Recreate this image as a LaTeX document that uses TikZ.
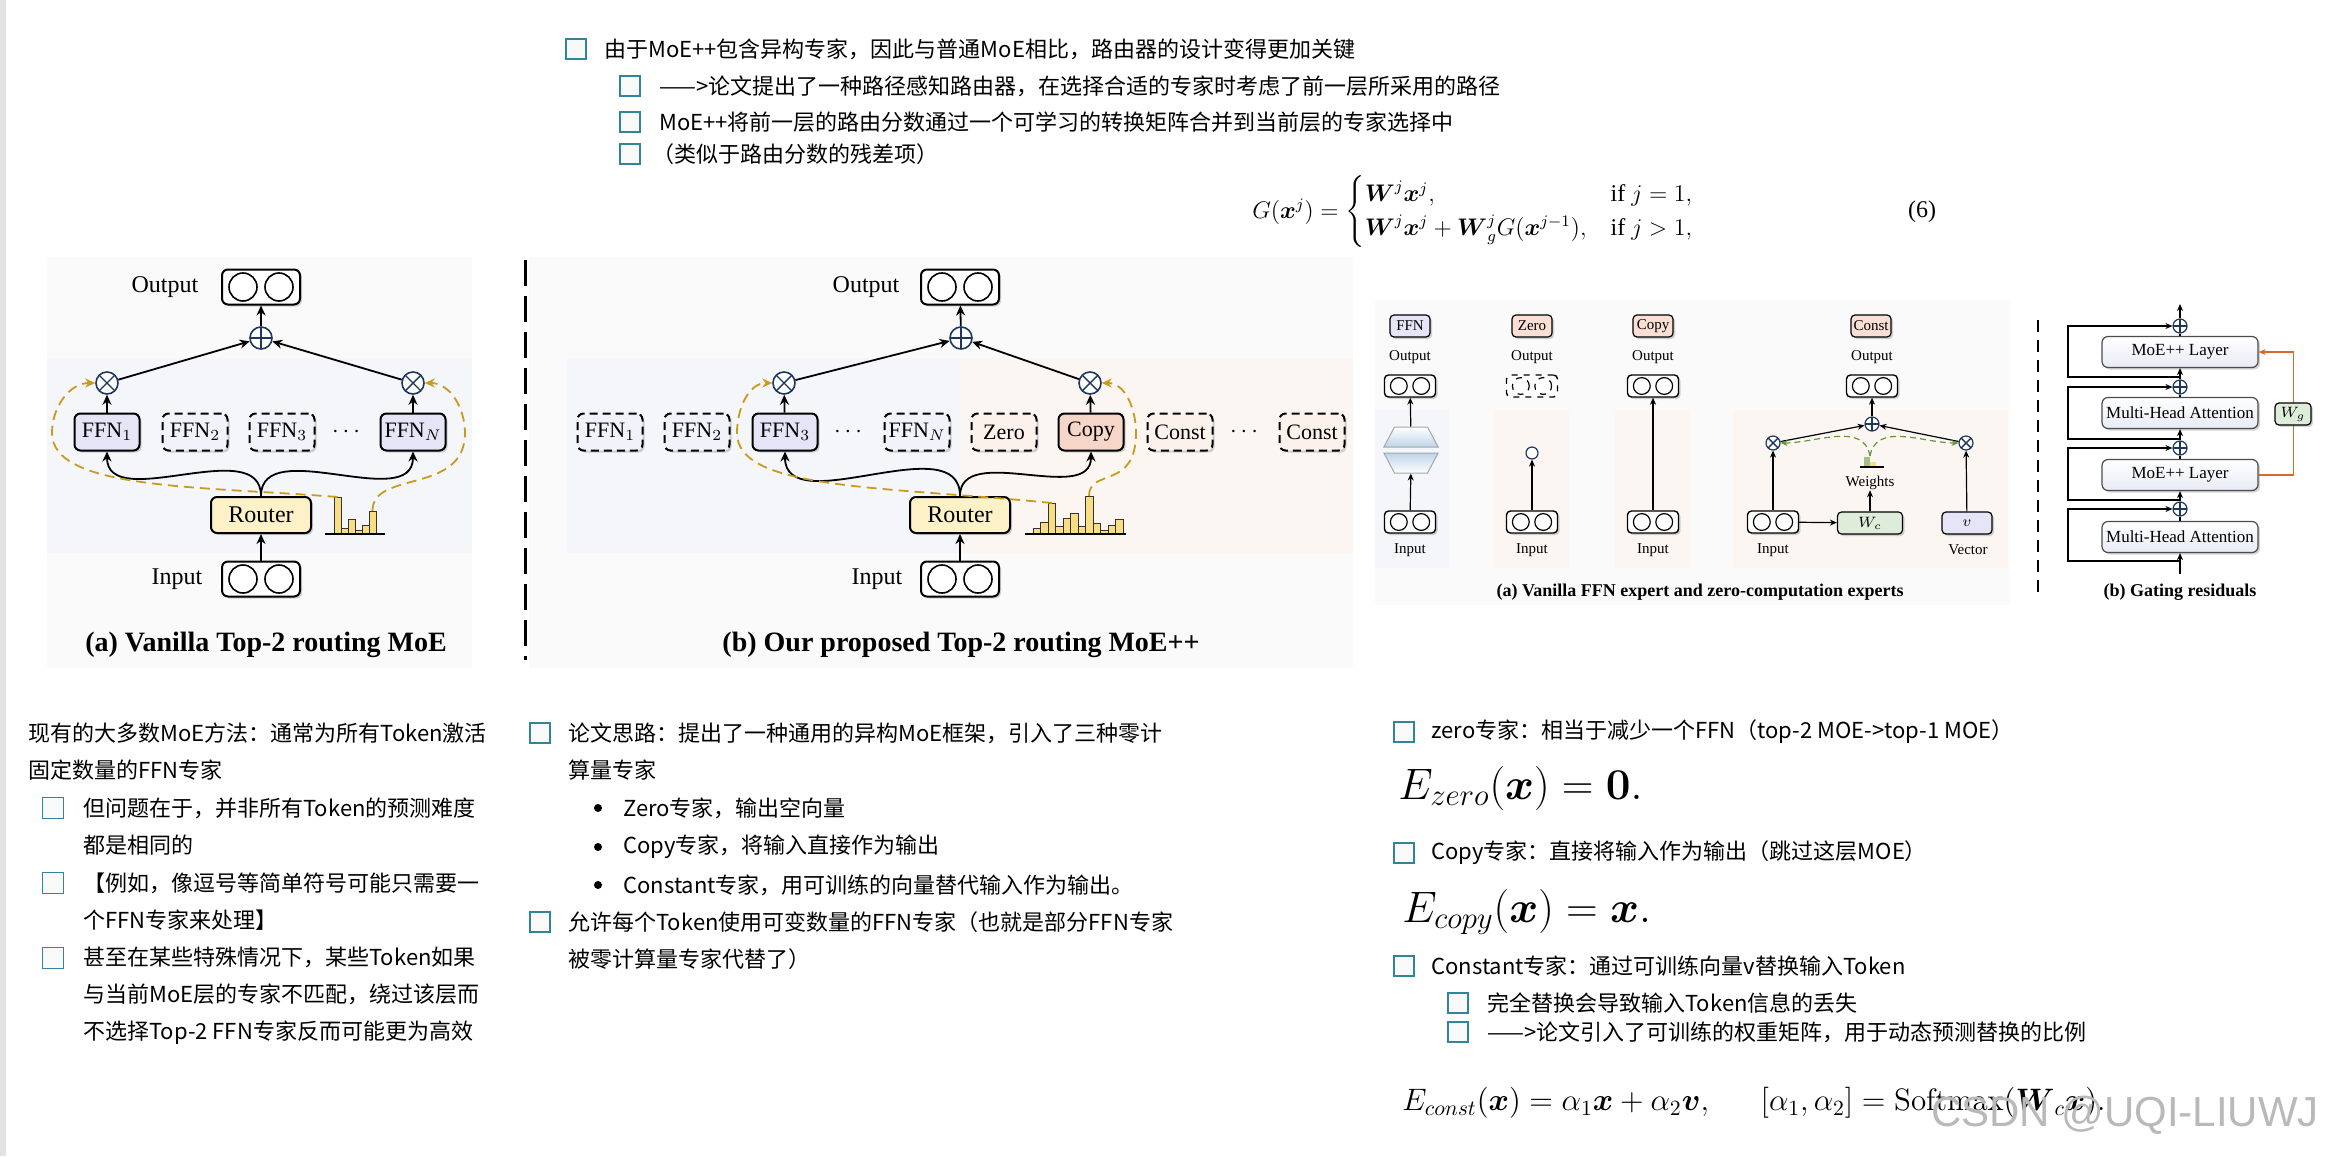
\RequirePackage{fix-cm}
\documentclass[tikz,border=0pt]{standalone}
\usepackage{amsmath}
\usepackage[no-math]{fontspec}
\setmainfont{Liberation Serif}
\newfontfamily\cjk{Noto Sans CJK SC}
\newfontfamily\wmfont{Liberation Sans}
\usetikzlibrary{arrows.meta,shadows,shapes.geometric}

\definecolor{ffnfill}{RGB}{229,229,247}
\definecolor{routerfill}{RGB}{253,241,200}
\definecolor{copyfill}{RGB}{246,214,200}
\definecolor{zerofill}{RGB}{250,224,212}
\definecolor{histfill}{RGB}{248,222,130}
\definecolor{cGold}{RGB}{200,155,30}
\definecolor{cOp}{RGB}{30,55,95}
\definecolor{panelout}{RGB}{250,250,251}
\definecolor{panelblue}{RGB}{244,246,250}
\definecolor{panelpink}{RGB}{252,246,243}
\definecolor{wcfill}{RGB}{222,236,218}
\definecolor{cGreen}{RGB}{100,150,60}
\definecolor{cOrange}{RGB}{215,105,45}
\definecolor{cbblue}{RGB}{49,133,155}
\definecolor{layerfill}{RGB}{232,235,245}
\definecolor{trapfill}{RGB}{190,212,232}

\begin{document}
\begin{tikzpicture}[
  x=0.5pt, y=-0.5pt,
  shd/.style={drop shadow={shadow xshift=1pt, shadow yshift=-1pt, opacity=0.35}},
  tok/.style={draw, line width=1pt, rounded corners=3pt, fill=white, minimum width=39pt, minimum height=17.5pt, inner sep=0, shd},
  tokbase/.style={draw, line width=0.7pt, rounded corners=2pt, fill=white, minimum width=25.5pt, minimum height=11pt, inner sep=0},
  tokS/.style={tokbase, shd},
  lbl/.style={font=\fontsize{12}{14}\selectfont, inner sep=0},
  lblS/.style={font=\fontsize{7.5}{9}\selectfont, inner sep=0},
  expert/.style={draw, line width=1pt, rounded corners=3pt, fill=ffnfill, minimum width=32.5pt, minimum height=18.5pt, inner sep=0, font=\fontsize{11}{12}\selectfont, shd},
  idle/.style={expert, dash pattern=on 4pt off 2.5pt, fill=ffnfill!50},
  router/.style={expert, fill=routerfill, minimum width=50pt, minimum height=18pt, font=\fontsize{12}{13}\selectfont},
  dots/.style={font=\fontsize{12}{13}\selectfont\bfseries, inner sep=0},
  tag/.style={draw, line width=0.6pt, rounded corners=2pt, minimum width=20pt, minimum height=11pt, inner sep=1pt, font=\fontsize{7.5}{9}\selectfont, shd},
  mulc/.style={circle, draw=cOp, line width=0.8pt, fill=white, minimum size=11pt, inner sep=0,
    path picture={\draw[line width=0.7pt] (path picture bounding box.north west) -- (path picture bounding box.south east)
      (path picture bounding box.north east) -- (path picture bounding box.south west);}},
  sumc/.style={circle, draw=cOp, line width=0.8pt, fill=white, minimum size=11pt, inner sep=0,
    path picture={\draw[line width=0.7pt] (path picture bounding box.north) -- (path picture bounding box.south)
      (path picture bounding box.east) -- (path picture bounding box.west);}},
  mulS/.style={mulc, line width=0.6pt, minimum size=7pt},
  sumS/.style={sumc, line width=0.6pt, minimum size=7pt},
  trap/.style={trapezium, trapezium angle=62, inner xsep=8.25pt, inner ysep=5pt, minimum width=0pt, minimum height=0pt,
    draw=gray!70, line width=0.5pt},
  captext/.style={font=\fontsize{14}{16}\selectfont\bfseries, inner sep=0},
  captextS/.style={font=\fontsize{9}{11}\selectfont\bfseries, inner sep=0},
  arr/.style={-{Stealth[length=5pt,width=4.5pt]}, line width=0.9pt},
  arrS/.style={-{Stealth[length=3.5pt,width=3pt]}, line width=0.6pt},
  gatearrow/.style={-{Stealth[length=5pt,width=4.5pt]}, line width=0.9pt, draw=cGold, dash pattern=on 5pt off 3pt},
  greenarrow/.style={-{Stealth[length=3.5pt,width=3pt]}, line width=0.6pt, draw=cGreen, dash pattern=on 3pt off 2pt},
  hbar/.style={draw=black!80, fill=histfill, line width=0.5pt},
  layer/.style={draw=black!70, line width=0.6pt, rounded corners=3pt, top color=white, bottom color=layerfill, minimum width=78pt, minimum height=15.5pt, inner sep=0, font=\fontsize{8.5}{10}\selectfont, shd},
  cbox/.style={draw=cbblue, fill=gray!5, line width=0.6pt, minimum size=10pt, inner sep=0},
  bul/.style={circle, fill=black, inner sep=0, minimum size=4pt},
  cjkt/.style={font=\cjk\fontsize{11}{18.5}\selectfont, anchor=west, inner sep=0},
  cjkp/.style={cjkt, anchor=north west, align=left},
  eqbig/.style={font=\fontsize{22}{26}\selectfont, anchor=west, inner sep=0},
  eqmid/.style={font=\fontsize{15.5}{18}\selectfont, anchor=west, inner sep=0},
  eqn/.style={font=\fontsize{12}{14}\selectfont, inner sep=0}
]
\useasboundingbox (0,0) rectangle (2338,1156);
\fill[gray!22] (0,0) rectangle (6,1156);

%% top notes
\node[cbox] (cb0) at (576,49) {};
\node[cjkt] (tx0) at (604,49) {由于MoE++包含异构专家，因此与普通MoE相比，路由器的设计变得更加关键};
\node[cbox] (cb1) at (630,86) {};
\node[cjkt] (tx1) at (659,86) {——>论文提出了一种路径感知路由器，在选择合适的专家时考虑了前一层所采用的路径};
\node[cbox] (cb2) at (630,122) {};
\node[cjkt] (tx2) at (659,122) {MoE++将前一层的路由分数通过一个可学习的转换矩阵合并到当前层的专家选择中};
\node[cbox] (cb3) at (630,154) {};
\node[cjkt] (tx3) at (652,154) {（类似于路由分数的残差项）};

\node[eqn, anchor=west] (geq) at (1252,212)
  {$G(\boldsymbol{x}^j)=\begin{cases}\boldsymbol{W}^j\boldsymbol{x}^j, & \text{if } j=1,\\ \boldsymbol{W}^j\boldsymbol{x}^j+\boldsymbol{W}^j_g G(\boldsymbol{x}^{j-1}), & \text{if } j>1,\end{cases}$};
\node[eqn] (geqno) at (1922,212) {(6)};

%% (a) vanilla MoE
\fill[panelout] (47,257) rectangle (472,668);
\fill[panelblue] (47,358) rectangle (472,553);

\node[tok] (outA) at (261,287) {};
\node[lbl] (outAl) at (165,287) {Output};
\node[sumc] (sumA) at (261,338) {};
\node[mulc] (mulA1) at (107,383) {};
\node[mulc] (mulA2) at (413,383) {};
\node[expert] (fA1) at (107,432) {FFN$_1$};
\node[idle] (fA2) at (195,432) {FFN$_2$};
\node[idle] (fA3) at (282,432) {FFN$_3$};
\node[dots] (dA) at (348,432) {$\cdots$};
\node[expert] (fAN) at (413,432) {FFN$_N$};
\node[router] (rtA) at (261,515) {Router};
\node[tok] (inA) at (261,579) {};
\node[lbl] (inAl) at (177,579) {Input};
\node[captext] (capA) at (266,645) {(a) Vanilla Top-2 routing MoE};

\foreach \x/\t in {334/497,341/528,348/519,355/530,362/525,369/511}
  \draw[hbar] (\x,534) rectangle (\x+7,\t);
\draw[line width=0.8pt] (325,534) -- (385,534);
\coordinate (hA1) at (337.5,497);
\coordinate (hA6) at (372.5,511);

\draw[arr] (inA) -- (rtA);
\draw[arr] (rtA.north) to[out=90,in=-90] (fA1.south);
\draw[arr] (rtA.north) to[out=90,in=-90] (fAN.south);
\draw[arr] (fA1) -- (mulA1);
\draw[arr] (fAN) -- (mulA2);
\draw[arr] (mulA1) -- (sumA);
\draw[arr] (mulA2) -- (sumA);
\draw[arr] (sumA) -- (outA);
\draw[gatearrow] (hA1) .. controls (200,486) and (52,490) .. (52,433) to[out=90,in=180] (mulA1.west);
\draw[gatearrow] (hA6) .. controls (372,470) and (465,495) .. (465,433) to[out=90,in=0] (mulA2.east);

\draw[line width=1.5pt, dash pattern=on 13pt off 5pt] (525,260) -- (525,660);

%% (b) MoE++
\fill[panelout] (529,257) rectangle (1353,668);
\fill[panelblue] (567,358) rectangle (961,553);
\fill[panelpink] (961,358) rectangle (1353,553);

\node[tok] (outB) at (960,287) {};
\node[lbl] (outBl) at (866,287) {Output};
\node[sumc] (sumB) at (961,338) {};
\node[mulc] (mulB1) at (784,383) {};
\node[mulc] (mulB2) at (1090,383) {};
\node[idle] (fB1) at (610,432) {FFN$_1$};
\node[idle] (fB2) at (697,432) {FFN$_2$};
\node[expert] (fB3) at (785,432) {FFN$_3$};
\node[dots] (dB1) at (850,432) {$\cdots$};
\node[idle] (fBN) at (917,432) {FFN$_N$};
\node[idle, fill=zerofill!45] (zB) at (1004,432) {Zero};
\node[expert, fill=copyfill] (cB) at (1091,432) {Copy};
\node[idle, fill=zerofill!45] (kB1) at (1180,432) {Const};
\node[dots] (dB2) at (1246,432) {$\cdots$};
\node[idle, fill=zerofill!45] (kB2) at (1312,432) {Const};
\node[router] (rtB) at (960,515) {Router};
\node[tok] (inB) at (960,579) {};
\node[lbl] (inBl) at (877,579) {Input};
\node[captext] (capB) at (961,645) {(b) Our proposed Top-2 routing MoE++};

\foreach \i/\t in {0/528,1/522,2/503,3/526,4/518,5/513,6/526,7/496,8/523,9/530,10/525,11/519}
  \draw[hbar] (1033+7.5*\i,534) rectangle (1040.5+7.5*\i,\t);
\draw[line width=0.8pt] (1025,534) -- (1126,534);
\coordinate (hB3) at (1052,503);
\coordinate (hB8) at (1089,496);

\draw[arr] (inB) -- (rtB);
\draw[arr] (rtB.north) to[out=90,in=-90] (fB3.south);
\draw[arr] (rtB.north) to[out=90,in=-90] (cB.south);
\draw[arr] (fB3) -- (mulB1);
\draw[arr] (cB) -- (mulB2);
\draw[arr] (mulB1) -- (sumB);
\draw[arr] (mulB2) -- (sumB);
\draw[arr] (sumB) -- (outB);
\draw[gatearrow] (hB3) .. controls (880,486) and (737,490) .. (737,433) to[out=90,in=180] (mulB1.west);
\draw[gatearrow] (hB8) .. controls (1089,468) and (1136,490) .. (1136,433) to[out=90,in=0] (mulB2.east);

%% (a) experts
\fill[panelout] (1375,300) rectangle (2010,605);
\fill[panelblue] (1375,410) rectangle (1449,568);
\fill[panelpink] (1494,410) rectangle (1569,568);
\fill[panelpink] (1615,410) rectangle (1690,568);
\fill[panelpink] (1733,410) rectangle (2008,568);

\node[tag, fill=ffnfill] (tgF) at (1410,326) {FFN};
\node[tag, fill=zerofill] (tgZ) at (1532,326) {Zero};
\node[tag, fill=zerofill] (tgP) at (1653,326) {Copy};
\node[tag, fill=zerofill] (tgC) at (1871,326) {Const};
\foreach \x/\n in {1410/F,1532/Z,1653/P,1872/C}
  \node[lblS] (ol\n) at (\x,357) {Output};

\node[tokS] (outF) at (1410,386) {};
\node[tokbase, dashed] (outZ) at (1532,386) {};
\node[tokS] (outP) at (1653,386) {};
\node[tokS] (outC) at (1872,386) {};
\node[tokS] (inF) at (1410,522) {};
\node[tokS] (inZ) at (1532,522) {};
\node[tokS] (inP) at (1653,522) {};
\node[tokS] (inC) at (1773,522) {};
\foreach \x/\n in {1410/F,1532/Z,1653/P,1773/C}
  \node[lblS] (il\n) at (\x,550) {Input};
\node[lblS] (vl) at (1968,550) {Vector};

\node[trap, top color=white, bottom color=trapfill] (trapU) at (1411,437) {};
\node[trap, shape border rotate=180, top color=trapfill, bottom color=white] (trapD) at (1411,463) {};
\node[circle, draw=cOp, line width=0.6pt, fill=white, minimum size=6pt, inner sep=0] (zc) at (1532,453) {};

\node[sumS] (sumC) at (1872,424) {};
\node[mulS] (mulC1) at (1773,443) {};
\node[mulS] (mulC2) at (1966,443) {};
\node[lblS] (wlbl) at (1870,483) {Weights};
\node[tag, fill=wcfill, minimum width=32.5pt] (wc) at (1870,523) {$W_c$};
\node[tag, fill=ffnfill, minimum width=25pt] (vv) at (1967,523) {$v$};
\fill[cGreen!60] (1864,457) rectangle (1870,467);
\fill[histfill] (1870,462) rectangle (1876,467);
\draw[line width=0.6pt] (1860,467) -- (1884,467);
\coordinate (wts) at (1870,456);

\foreach \b in {outA,inA,outB,inB}
  \draw[line width=0.8pt] ([xshift=-9pt]\b.center) circle (7pt) ([xshift=9pt]\b.center) circle (7pt);
\foreach \b in {outF,inF,outP,inP,outC,inC,inZ}
  \draw[line width=0.6pt] ([xshift=-5.6pt]\b.center) circle (4.2pt) ([xshift=5.6pt]\b.center) circle (4.2pt);
\draw[line width=0.6pt, dashed] ([xshift=-5.6pt]outZ.center) circle (4.2pt) ([xshift=5.6pt]outZ.center) circle (4.2pt);

\draw[arrS] (inF) -- (trapD);
\draw[arrS] (trapU) -- (outF);
\draw[arrS] (inZ) -- (zc);
\draw[arrS] (inP) -- (outP);
\draw[arrS] (inC) -- (wc);
\draw[arrS] (wc) -- (wlbl);
\draw[arrS] (inC) -- (mulC1);
\draw[arrS] (vv) -- (mulC2);
\draw[arrS] (mulC1) -- (sumC);
\draw[arrS] (mulC2) -- (sumC);
\draw[arrS] (sumC) -- (outC);
\draw[greenarrow] (wts) to[out=100,in=0] (mulC1.east);
\draw[greenarrow] (wts) to[out=80,in=180] (mulC2.west);

\node[captextS] (capC) at (1700,592) {(a) Vanilla FFN expert and zero-computation experts};
\draw[line width=1pt, dash pattern=on 6pt off 4pt] (2038,320) -- (2038,596);

%% (b) gating residuals
\node[layer] (mhaLo) at (2180,537) {Multi-Head Attention};
\node[layer] (moeLo) at (2180,475) {MoE++ Layer};
\node[layer] (mhaHi) at (2180,413) {Multi-Head Attention};
\node[layer] (moeHi) at (2180,352) {MoE++ Layer};
\node[sumS] (sG1) at (2180,509) {};
\node[sumS] (sG2) at (2180,448) {};
\node[sumS] (sG3) at (2180,387) {};
\node[sumS] (sG4) at (2180,326) {};
\coordinate (inG) at (2180,574);
\coordinate (outG) at (2180,304);
\coordinate (rG1) at (2180,561);
\coordinate (rG2) at (2180,500);
\coordinate (rG3) at (2180,439);
\coordinate (rG4) at (2180,377);

\draw[arrS] (inG) -- (mhaLo);
\draw[line width=0.6pt] (mhaLo) -- (sG1);
\draw[arrS] (sG1) -- (moeLo);
\draw[line width=0.6pt] (moeLo) -- (sG2);
\draw[arrS] (sG2) -- (mhaHi);
\draw[line width=0.6pt] (mhaHi) -- (sG3);
\draw[arrS] (sG3) -- (moeHi);
\draw[line width=0.6pt] (moeHi) -- (sG4);
\draw[arrS] (sG4) -- (outG);
\foreach \r/\s in {rG1/sG1,rG2/sG2,rG3/sG3,rG4/sG4}
  \draw[arrS] (\r) -- ++(-112,0) |- (\s);
\draw[arrS, draw=cOrange] (moeLo.east) -- ++(35,0) |- (moeHi.east);
\node[tag, fill=wcfill, minimum width=18pt] (wgG) at (2293,414) {$W_g$};
\node[captextS] (capG) at (2180,592) {(b) Gating residuals};

%% notes, left column
\node[cjkp] (p0) at (28,722) {现有的大多数MoE方法：通常为所有Token激活\\固定数量的FFN专家};
\node[cbox, minimum size=10.5pt] (cl1) at (53,808) {};
\node[cjkp] (p1) at (83,797) {但问题在于，并非所有Token的预测难度\\都是相同的};
\node[cbox, minimum size=10.5pt] (cl2) at (53,883) {};
\node[cjkp] (p2) at (83,872) {【例如，像逗号等简单符号可能只需要一\\个FFN专家来处理】};
\node[cbox, minimum size=10.5pt] (cl3) at (53,958) {};
\node[cjkp] (p3) at (83,947) {甚至在某些特殊情况下，某些Token如果\\与当前MoE层的专家不匹配，绕过该层而\\不选择Top-2 FFN专家反而可能更为高效};

%% notes, middle column
\node[cbox] (cm1) at (540,733) {};
\node[cjkp] (p4) at (568,722) {论文思路：提出了一种通用的异构MoE框架，引入了三种零计\\算量专家};
\node[bul] (bu1) at (598,808) {};
\node[cjkt] (q1) at (623,808) {Zero专家，输出空向量};
\node[bul] (bu2) at (598,847) {};
\node[cjkt] (q2) at (623,847) {Copy专家，将输入直接作为输出};
\node[bul] (bu3) at (598,885) {};
\node[cjkt] (q3) at (623,885) {Constant专家，用可训练的向量替代输入作为输出。};
\node[cbox] (cm2) at (540,922) {};
\node[cjkp] (p5) at (568,911) {允许每个Token使用可变数量的FFN专家（也就是部分FFN专家\\被零计算量专家代替了）};

%% notes, right column
\node[cbox] (cr1) at (1404,732) {};
\node[cjkt] (r1) at (1431,732) {zero专家：相当于减少一个FFN（top-2 MOE->top-1 MOE）};
\node[eqbig] (ezero) at (1398,788) {$E_{zero}(\boldsymbol{x})=\mathbf{0}.$};
\node[cbox] (cr2) at (1404,853) {};
\node[cjkt] (r2) at (1431,853) {Copy专家：直接将输入作为输出（跳过这层MOE）};
\node[eqbig] (ecopy) at (1402,912) {$E_{copy}(\boldsymbol{x})=\boldsymbol{x}.$};
\node[cbox] (cr3) at (1404,966) {};
\node[cjkt] (r3) at (1431,966) {Constant专家：通过可训练向量v替换输入Token};
\node[cbox] (cr4) at (1458,1003) {};
\node[cjkt] (r4) at (1487,1003) {完全替换会导致输入Token信息的丢失};
\node[cbox] (cr5) at (1458,1032) {};
\node[cjkt] (r5) at (1487,1032) {——>论文引入了可训练的权重矩阵，用于动态预测替换的比例};
\node[eqmid] (econst) at (1402,1103)
  {$E_{const}(\boldsymbol{x})=\alpha_1\boldsymbol{x}+\alpha_2\boldsymbol{v},\hspace{1.5em}[\alpha_1,\alpha_2]=\mathrm{Softmax}(\boldsymbol{W}_c\boldsymbol{x}).$};
\node[font=\wmfont\fontsize{21}{24}\selectfont, text=gray!55, inner sep=0] (wm) at (2125,1115) {CSDN @UQI-LIUWJ};
\end{tikzpicture}
\end{document}
